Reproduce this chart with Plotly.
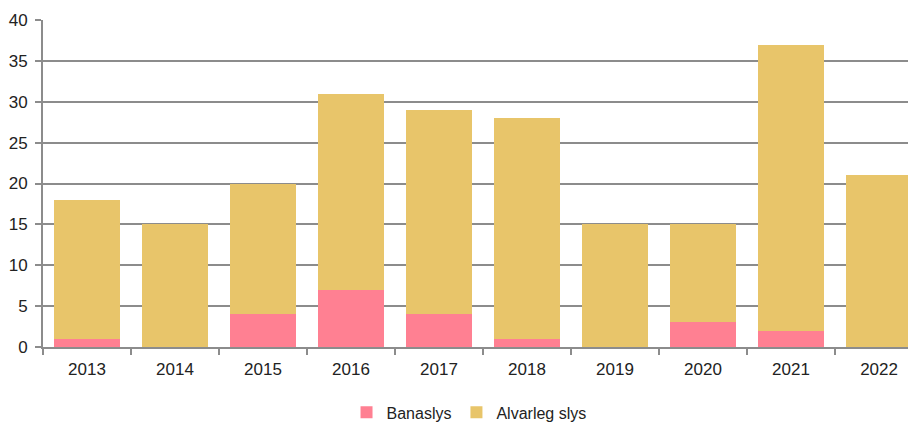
import plotly.graph_objects as go

years = ["2013", "2014", "2015", "2016", "2017", "2018", "2019", "2020", "2021", "2022"]
banaslys = [1, 0, 4, 7, 4, 1, 0, 3, 2, 0]
alvarleg_slys = [17, 15, 16, 24, 25, 27, 15, 12, 35, 21]

PINK = "#FF8092"
GOLD = "#E8C56A"
GRID = "#8C8C8C"
FONT = "Liberation Sans, Arial, sans-serif"

fig = go.Figure()
fig.add_trace(go.Bar(x=years, y=banaslys, name="Banaslys", marker_color=PINK, marker_line_width=0))
fig.add_trace(go.Bar(x=years, y=alvarleg_slys, name="Alvarleg slys", marker_color=GOLD, marker_line_width=0))

# page body has an 8px margin, so the figure is 8px smaller and margins shifted
fig.update_layout(
    barmode="stack",
    bargap=0.24,
    width=908,
    height=418,
    margin=dict(l=35, r=0, t=12, b=79, autoexpand=False),
    plot_bgcolor="white",
    paper_bgcolor="white",
    font=dict(family=FONT, size=17, color="#222222"),
    showlegend=True,
    legend=dict(
        orientation="h",
        x=0.488, xanchor="center",
        y=-0.2, yanchor="middle",
        font=dict(size=16),
        itemwidth=30,
        traceorder="normal",
    ),
)

fig.update_xaxes(
    type="category",
    range=[-0.5, 9.42],
    tickson="boundaries",
    ticks="outside",
    ticklen=6,
    tickwidth=2,
    tickcolor=GRID,
    ticklabelstandoff=6,
    showline=True,
    linecolor=GRID,
    linewidth=2,
    showgrid=False,
    automargin=False,
)
fig.update_yaxes(
    range=[0, 40],
    dtick=5,
    ticks="outside",
    ticklen=6,
    tickwidth=2,
    tickcolor=GRID,
    ticklabelstandoff=4,
    showline=True,
    linecolor=GRID,
    linewidth=2,
    showgrid=True,
    gridcolor=GRID,
    gridwidth=2,
    zeroline=False,
    automargin=False,
)

fig.write_html("out.html")
